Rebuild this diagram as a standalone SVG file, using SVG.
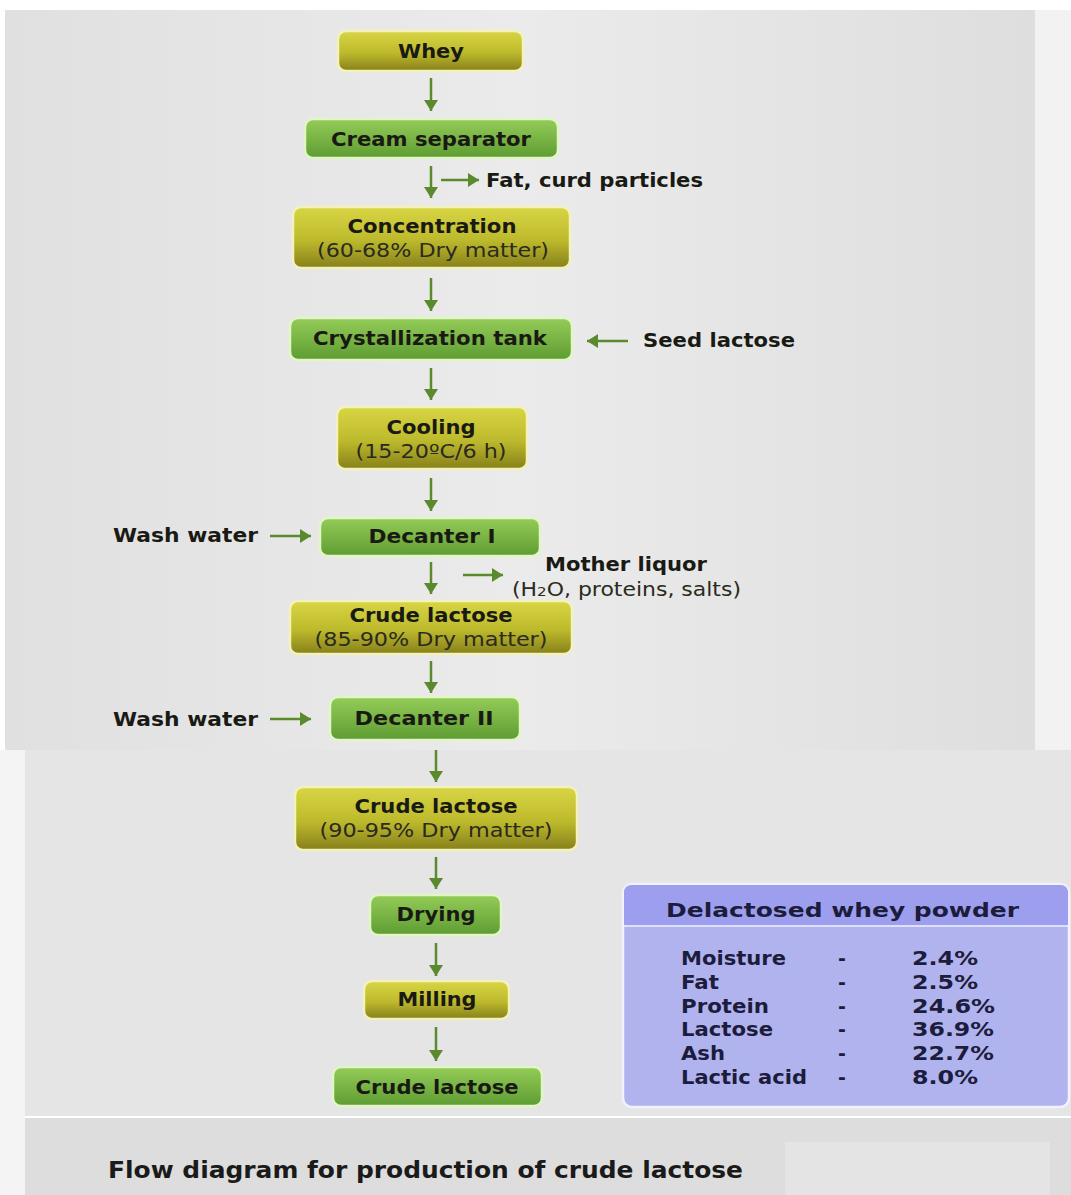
<svg xmlns="http://www.w3.org/2000/svg" width="1071" height="1195" viewBox="0 0 1071 1195">
<defs>
<linearGradient id="gy" x1="0" y1="0" x2="0" y2="1"><stop offset="0" stop-color="#d8d645"/><stop offset="0.55" stop-color="#bdb92c"/><stop offset="1" stop-color="#86801a"/></linearGradient>
<linearGradient id="gg" x1="0" y1="0" x2="0" y2="1"><stop offset="0" stop-color="#94cc58"/><stop offset="1" stop-color="#5e9c32"/></linearGradient>
<linearGradient id="bg1" x1="0" y1="0" x2="1" y2="0"><stop offset="0" stop-color="#e0e0e0"/><stop offset="0.5" stop-color="#ebebeb"/><stop offset="1" stop-color="#dedede"/></linearGradient>
<marker id="ah" markerUnits="userSpaceOnUse" markerWidth="12" markerHeight="16" viewBox="0 0 12 16" refX="11" refY="8" orient="auto"><path d="M0,1 L11,8 L0,15 Z" fill="#5b8a2e"/></marker>
</defs>
<style>
.y{fill:url(#gy);stroke:#f4f2bc;stroke-width:2.5}
.g{fill:url(#gg);stroke:#e2f5c6;stroke-width:2.5}
text{font-family:"DejaVu Sans",Verdana,sans-serif}
.t{font-weight:bold;font-size:19px;fill:#1a1a14;text-anchor:middle}
.s{font-size:19px;fill:#2a2a20;text-anchor:middle}
.l{font-weight:bold;font-size:19px;fill:#1a1a14}
.r{font-size:19px;fill:#2a2a20}
.c line{stroke:#5b8a2e;stroke-width:2.5}
.p{font-weight:bold;font-size:19px;fill:#1c1c3c}
</style>
<rect width="1071" height="1195" fill="#ffffff"/>
<rect x="5" y="10" width="1030" height="740" fill="url(#bg1)"/>
<rect x="1035" y="10" width="36" height="740" fill="#f2f2f2"/>
<rect x="25" y="750" width="1046" height="366" fill="#e5e5e5"/>
<rect x="0" y="750" width="25" height="445" fill="#f4f4f4"/>
<rect x="25" y="1118" width="1046" height="77" fill="#dddddd"/>
<rect x="785" y="1142" width="265" height="53" fill="#e4e4e4"/>

<g class="c">
<line x1="431" y1="78" x2="431" y2="111" marker-end="url(#ah)"/>
<line x1="431" y1="166" x2="431" y2="198" marker-end="url(#ah)"/>
<line x1="441" y1="180" x2="479" y2="180" marker-end="url(#ah)"/>
<line x1="431" y1="278" x2="431" y2="311" marker-end="url(#ah)"/>
<line x1="628" y1="341" x2="587" y2="341" marker-end="url(#ah)"/>
<line x1="431" y1="368" x2="431" y2="400" marker-end="url(#ah)"/>
<line x1="431" y1="478" x2="431" y2="511" marker-end="url(#ah)"/>
<line x1="270" y1="536" x2="311" y2="536" marker-end="url(#ah)"/>
<line x1="431" y1="562" x2="431" y2="594" marker-end="url(#ah)"/>
<line x1="463" y1="575" x2="503" y2="575" marker-end="url(#ah)"/>
<line x1="431" y1="661" x2="431" y2="693" marker-end="url(#ah)"/>
<line x1="270" y1="719" x2="311" y2="719" marker-end="url(#ah)"/>
<line x1="436" y1="750" x2="436" y2="782" marker-end="url(#ah)"/>
<line x1="436" y1="857" x2="436" y2="889" marker-end="url(#ah)"/>
<line x1="436" y1="943" x2="436" y2="976" marker-end="url(#ah)"/>
<line x1="436" y1="1027" x2="436" y2="1061" marker-end="url(#ah)"/>
</g>

<g id="whey"><rect class="y" x="338" y="31" width="185" height="40" rx="8"/><text class="t" x="431" y="58" textLength="66" lengthAdjust="spacingAndGlyphs">Whey</text></g>
<g id="cream"><rect class="g" x="305" y="119" width="253" height="39" rx="8"/><text class="t" x="431" y="146" textLength="200" lengthAdjust="spacingAndGlyphs">Cream separator</text></g>
<text class="l" x="486" y="187" textLength="217" lengthAdjust="spacingAndGlyphs">Fat, curd particles</text>
<g id="conc"><rect class="y" x="293" y="207" width="277" height="61" rx="8"/><text class="t" x="432" y="233" textLength="169" lengthAdjust="spacingAndGlyphs">Concentration</text><text class="s" x="433" y="257" textLength="232" lengthAdjust="spacingAndGlyphs">(60-68% Dry matter)</text></g>
<g id="cryst"><rect class="g" x="290" y="318" width="282" height="42" rx="8"/><text class="t" x="430" y="345" textLength="234" lengthAdjust="spacingAndGlyphs">Crystallization tank</text></g>
<text class="l" x="643" y="347" textLength="152" lengthAdjust="spacingAndGlyphs">Seed lactose</text>
<g id="cool"><rect class="y" x="337" y="407" width="190" height="62" rx="8"/><text class="t" x="431" y="434" textLength="89" lengthAdjust="spacingAndGlyphs">Cooling</text><text class="s" x="431" y="458" textLength="151" lengthAdjust="spacingAndGlyphs">(15-20ºC/6 h)</text></g>
<text class="l" x="113" y="542" textLength="145" lengthAdjust="spacingAndGlyphs">Wash water</text>
<g id="dec1"><rect class="g" x="320" y="518" width="220" height="38" rx="8"/><text class="t" x="432" y="543" textLength="127" lengthAdjust="spacingAndGlyphs">Decanter I</text></g>
<text class="l" x="545" y="571" textLength="162" lengthAdjust="spacingAndGlyphs">Mother liquor</text>
<text class="r" x="512" y="596" textLength="229" lengthAdjust="spacingAndGlyphs">(H<tspan font-size="13">2</tspan>O, proteins, salts)</text>
<g id="crude1"><rect class="y" x="290" y="601" width="282" height="53" rx="8"/><text class="t" x="431" y="622" textLength="163" lengthAdjust="spacingAndGlyphs">Crude lactose</text><text class="s" x="431" y="646" textLength="233" lengthAdjust="spacingAndGlyphs">(85-90% Dry matter)</text></g>
<text class="l" x="113" y="726" textLength="145" lengthAdjust="spacingAndGlyphs">Wash water</text>
<g id="dec2"><rect class="g" x="330" y="697" width="190" height="43" rx="8"/><text class="t" x="424" y="725" textLength="139" lengthAdjust="spacingAndGlyphs">Decanter II</text></g>
<g id="crude2"><rect class="y" x="295" y="787" width="282" height="63" rx="8"/><text class="t" x="436" y="813" textLength="163" lengthAdjust="spacingAndGlyphs">Crude lactose</text><text class="s" x="436" y="837" textLength="233" lengthAdjust="spacingAndGlyphs">(90-95% Dry matter)</text></g>
<g id="dry"><rect class="g" x="370" y="895" width="131" height="40" rx="8"/><text class="t" x="436" y="921" textLength="79" lengthAdjust="spacingAndGlyphs">Drying</text></g>
<g id="mill"><rect class="y" x="364" y="981" width="145" height="38" rx="8"/><text class="t" x="437" y="1006" textLength="79" lengthAdjust="spacingAndGlyphs">Milling</text></g>
<g id="crude3"><rect class="g" x="333" y="1067" width="209" height="39" rx="8"/><text class="t" x="437" y="1094" textLength="163" lengthAdjust="spacingAndGlyphs">Crude lactose</text></g>

<g id="table">
<rect x="623" y="884" width="446" height="223" rx="9" fill="#b1b3ef" stroke="#f2f2ff" stroke-width="2.5"/>
<path d="M624,925 L624,893 Q624,885 632,885 L1060,885 Q1068,885 1068,893 L1068,925 Z" fill="#9d9fee"/>
<line x1="624" y1="926" x2="1068" y2="926" stroke="#eef0ff" stroke-width="1.5"/>
<text class="p" x="666" y="917" font-size="22" textLength="353" lengthAdjust="spacingAndGlyphs">Delactosed whey powder</text>
<text class="p" x="681" y="965" textLength="105" lengthAdjust="spacingAndGlyphs">Moisture</text><text class="p" x="838" y="965">-</text><text class="p" x="912" y="965" textLength="66" lengthAdjust="spacingAndGlyphs">2.4%</text>
<text class="p" x="681" y="989" textLength="38" lengthAdjust="spacingAndGlyphs">Fat</text><text class="p" x="838" y="989">-</text><text class="p" x="912" y="989" textLength="66" lengthAdjust="spacingAndGlyphs">2.5%</text>
<text class="p" x="681" y="1013" textLength="88" lengthAdjust="spacingAndGlyphs">Protein</text><text class="p" x="838" y="1013">-</text><text class="p" x="912" y="1013" textLength="83" lengthAdjust="spacingAndGlyphs">24.6%</text>
<text class="p" x="681" y="1036" textLength="92" lengthAdjust="spacingAndGlyphs">Lactose</text><text class="p" x="838" y="1036">-</text><text class="p" x="912" y="1036" textLength="82" lengthAdjust="spacingAndGlyphs">36.9%</text>
<text class="p" x="681" y="1060" textLength="44" lengthAdjust="spacingAndGlyphs">Ash</text><text class="p" x="838" y="1060">-</text><text class="p" x="912" y="1060" textLength="82" lengthAdjust="spacingAndGlyphs">22.7%</text>
<text class="p" x="681" y="1084" textLength="126" lengthAdjust="spacingAndGlyphs">Lactic acid</text><text class="p" x="838" y="1084">-</text><text class="p" x="912" y="1084" textLength="66" lengthAdjust="spacingAndGlyphs">8.0%</text>
</g>

<text x="108" y="1178" font-family="'DejaVu Sans Condensed','DejaVu Sans',sans-serif" font-weight="bold" font-size="23" fill="#1a1a1a" textLength="635" lengthAdjust="spacingAndGlyphs">Flow diagram for production of crude lactose</text>
</svg>
